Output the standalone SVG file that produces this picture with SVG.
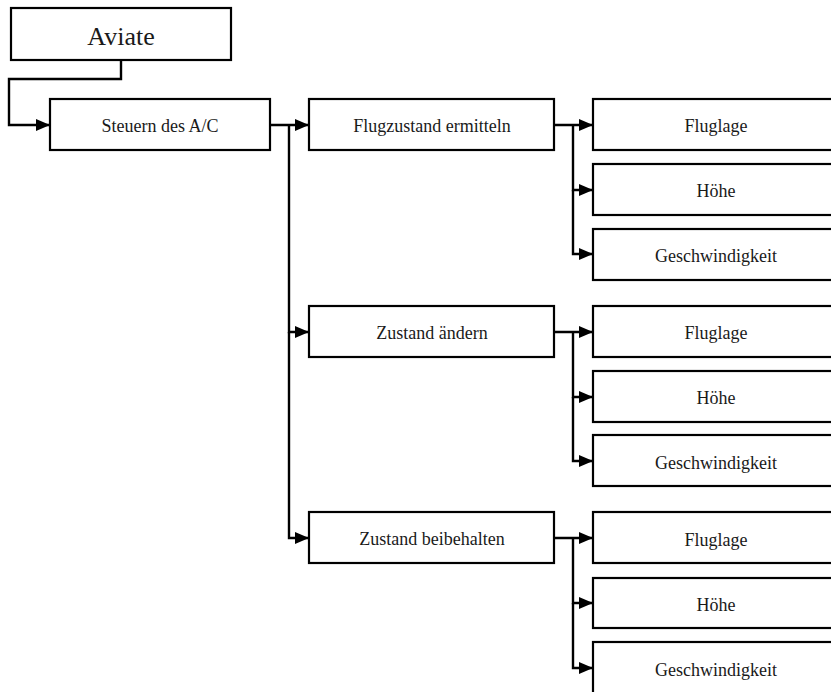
<svg xmlns="http://www.w3.org/2000/svg" width="831" height="692" viewBox="0 0 831 692">
  <style>
    .box { fill: #ffffff; stroke: #000000; stroke-width: 2.2; }
    .lbl { font-family: "Liberation Serif", "Times New Roman", serif; font-size: 18px; fill: #1a1a1a; text-anchor: middle; dominant-baseline: central; }
    .big { font-size: 26px; }
    .wire { fill: none; stroke: #000000; stroke-width: 2.4; }
  </style>
  <defs>
    <marker id="arrow" viewBox="0 0 14 12" refX="14" refY="6" markerWidth="14" markerHeight="12" markerUnits="userSpaceOnUse" orient="auto">
      <path d="M0,0 L14,6 L0,12 Z" fill="#000000"/>
    </marker>
  </defs>

  <!-- connectors -->
  <g id="connectors">
    <path class="wire" d="M121,60 V79 H9 V125 H50" marker-end="url(#arrow)"/>
    <path class="wire" d="M270,125 H309" marker-end="url(#arrow)"/>
    <path class="wire" d="M289,125 V332 H309" marker-end="url(#arrow)"/>
    <path class="wire" d="M289,332 V538 H309" marker-end="url(#arrow)"/>

    <path class="wire" d="M554,125 H593" marker-end="url(#arrow)"/>
    <path class="wire" d="M573,125 V190 H593" marker-end="url(#arrow)"/>
    <path class="wire" d="M573,190 V254 H593" marker-end="url(#arrow)"/>

    <path class="wire" d="M554,332 H593" marker-end="url(#arrow)"/>
    <path class="wire" d="M573,332 V397 H593" marker-end="url(#arrow)"/>
    <path class="wire" d="M573,397 V461 H593" marker-end="url(#arrow)"/>

    <path class="wire" d="M554,538 H593" marker-end="url(#arrow)"/>
    <path class="wire" d="M573,538 V603 H593" marker-end="url(#arrow)"/>
    <path class="wire" d="M573,603 V668 H593" marker-end="url(#arrow)"/>
  </g>

  <!-- root -->
  <g id="aviate">
    <rect class="box" x="11" y="8" width="220" height="52"/>
    <text class="lbl big" x="121" y="36">Aviate</text>
  </g>
  <g id="steuern">
    <rect class="box" x="50" y="99" width="220" height="51"/>
    <text class="lbl" x="160" y="126">Steuern des A/C</text>
  </g>

  <!-- second level -->
  <g id="flugzustand">
    <rect class="box" x="309" y="99" width="245" height="51"/>
    <text class="lbl" x="432" y="126">Flugzustand ermitteln</text>
  </g>
  <g id="aendern">
    <rect class="box" x="309" y="306" width="245" height="51"/>
    <text class="lbl" x="432" y="333">Zustand ändern</text>
  </g>
  <g id="beibehalten">
    <rect class="box" x="309" y="512" width="245" height="51"/>
    <text class="lbl" x="432" y="539">Zustand beibehalten</text>
  </g>

  <!-- leaves: Flugzustand ermitteln -->
  <g id="fz-fluglage">
    <rect class="box" x="593" y="99" width="260" height="51"/>
    <text class="lbl" x="716" y="126">Fluglage</text>
  </g>
  <g id="fz-hoehe">
    <rect class="box" x="593" y="164" width="260" height="51"/>
    <text class="lbl" x="716" y="191">Höhe</text>
  </g>
  <g id="fz-geschw">
    <rect class="box" x="593" y="229" width="260" height="51"/>
    <text class="lbl" x="716" y="256">Geschwindigkeit</text>
  </g>

  <!-- leaves: Zustand ändern -->
  <g id="za-fluglage">
    <rect class="box" x="593" y="306" width="260" height="51"/>
    <text class="lbl" x="716" y="333">Fluglage</text>
  </g>
  <g id="za-hoehe">
    <rect class="box" x="593" y="371" width="260" height="51"/>
    <text class="lbl" x="716" y="398">Höhe</text>
  </g>
  <g id="za-geschw">
    <rect class="box" x="593" y="435" width="260" height="51"/>
    <text class="lbl" x="716" y="463">Geschwindigkeit</text>
  </g>

  <!-- leaves: Zustand beibehalten -->
  <g id="zb-fluglage">
    <rect class="box" x="593" y="512" width="260" height="51"/>
    <text class="lbl" x="716" y="540">Fluglage</text>
  </g>
  <g id="zb-hoehe">
    <rect class="box" x="593" y="578" width="260" height="50"/>
    <text class="lbl" x="716" y="605">Höhe</text>
  </g>
  <g id="zb-geschw">
    <rect class="box" x="593" y="642" width="260" height="60"/>
    <text class="lbl" x="716" y="670">Geschwindigkeit</text>
  </g>
</svg>
